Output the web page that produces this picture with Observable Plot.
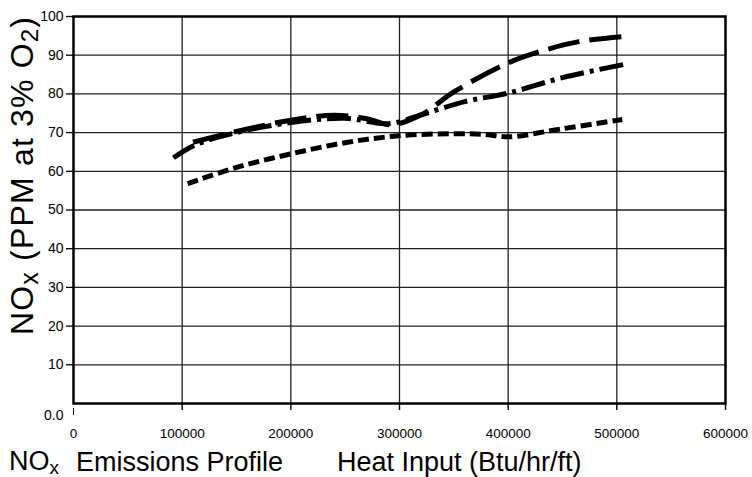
<!DOCTYPE html>
<html><head><meta charset="utf-8">
<script src="https://cdn.jsdelivr.net/npm/d3@7"></script>
<script src="https://cdn.jsdelivr.net/npm/@observablehq/plot@0.6"></script>
<style>body{margin:0;background:#fff}</style>
</head><body><div id="chart"></div>
<script>
const xTicks = [0, 100000, 200000, 300000, 400000, 500000, 600000];
const yTicks = [10, 20, 30, 40, 50, 60, 70, 80, 90, 100];
const gridXValues = [100000, 200000, 300000, 400000, 500000];
const gridYValues = [10, 20, 30, 40, 50, 60, 70, 80, 90];

const longDashX = [110000, 150000, 200000, 240000, 270000, 292000, 320000, 350000, 400000, 430000, 465000, 505000];
const longDashY = [67.5, 70.3, 73.2, 74.5, 73.6, 72.0, 74.6, 80.5, 88.0, 91.0, 93.5, 94.8];

const dashDotX = [92000, 112000, 150000, 200000, 250000, 290000, 320000, 360000, 400000, 450000, 508000];
const dashDotY = [63.5, 66.8, 70.0, 72.6, 73.7, 72.3, 74.6, 78.0, 80.2, 84.2, 87.7];

const shortDashX = [105000, 150000, 200000, 250000, 300000, 350000, 380000, 400000, 450000, 505000];
const shortDashY = [56.8, 61.0, 64.5, 67.4, 69.2, 69.7, 69.5, 68.9, 71.0, 73.4];

const toRows = (xs, ys) => xs.map((x, i) => ({x, y: ys[i]}));
const longRows = toRows(longDashX, longDashY);
const dashDotRows = toRows(dashDotX, dashDotY);
const shortRows = toRows(shortDashX, shortDashY);

const font = "Liberation Sans, Arial, Helvetica, sans-serif";
const lineOpts = {x: "x", y: "y", stroke: "black", strokeWidth: 5, strokeLinecap: "butt", curve: "catmull-rom"};

const chart = Plot.plot({
  width: 752, height: 477,
  marginLeft: 73, marginRight: 27, marginTop: 16, marginBottom: 74,
  style: {fontFamily: font, background: "white", color: "black"},
  x: {domain: [0, 600000]},
  y: {domain: [0, 100]},
  marks: [
    Plot.gridX(gridXValues, {stroke: "#222", strokeOpacity: 1, strokeWidth: 1.3}),
    Plot.gridY(gridYValues, {stroke: "#222", strokeOpacity: 1, strokeWidth: 1.3}),
    Plot.axisY(yTicks, {tickSize: 7, tickPadding: 3, fontSize: 14, label: null, strokeWidth: 1.3}),
    Plot.text([{y: -3, t: "0.0"}], {frameAnchor: "left", y: "y", text: "t", dx: -10, textAnchor: "end", fontSize: 14}),
    Plot.axisX(xTicks, {tickSize: 0, tickPadding: 25, fontSize: 13.5, tickFormat: d3.format("d"), label: null}),
    Plot.ruleX(xTicks.slice(1), {y1: 0, y2: -1.8, strokeWidth: 1.4}),
    Plot.ruleX([0], {y1: -1.3, y2: -3.1, strokeWidth: 1}),
    Plot.line(shortRows, {...lineOpts, strokeDasharray: "11,5"}),
    Plot.line(dashDotRows, {...lineOpts, strokeDasharray: "24,6,4,6"}),
    Plot.line(longRows, {...lineOpts, strokeDasharray: "32,10"}),
    Plot.frame({stroke: "black", strokeWidth: 2.5})
  ]
});
document.getElementById("chart").appendChild(chart);

const svg = d3.select(chart);
// Y title
const yt = svg.append("text")
  .attr("transform", "translate(33,335) rotate(-90)")
  .attr("text-anchor", "start")
  .attr("textLength", 318).attr("lengthAdjust", "spacing")
  .attr("font-family", font).attr("font-size", 32).attr("fill", "black");
yt.append("tspan").text("NO");
yt.append("tspan").attr("font-size", 25).attr("dy", 5).text("x");
yt.append("tspan").attr("dy", -5).text(" (PPM at 3% O");
yt.append("tspan").attr("font-size", 24).attr("dy", 5).text("2");
yt.append("tspan").attr("dy", -5).text(")");

// Bottom captions
const b1 = svg.append("text").attr("x", 9).attr("y", 470)
  .attr("text-anchor", "start")
  .attr("font-family", font).attr("font-size", 27).attr("fill", "black");
b1.append("tspan").text("NO");
b1.append("tspan").attr("font-size", 19).attr("dy", 4).text("x");
svg.append("text").attr("x", 76).attr("y", 471)
  .attr("text-anchor", "start")
  .attr("font-family", font).attr("font-size", 27).attr("fill", "black")
  .text("Emissions Profile");
svg.append("text").attr("x", 337).attr("y", 471)
  .attr("text-anchor", "start")
  .attr("font-family", font).attr("font-size", 27).attr("fill", "black")
  .text("Heat Input (Btu/hr/ft)");
</script>
</body></html>
